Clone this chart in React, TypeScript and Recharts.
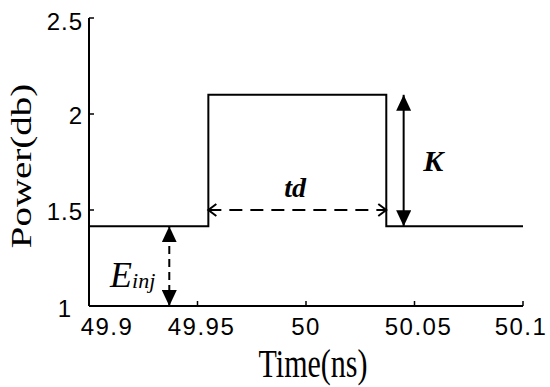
import React from "react";
import {
  LineChart,
  Line,
  XAxis,
  YAxis,
  ReferenceLine,
  ReferenceDot,
  Label,
} from "recharts";

// pulse trace
const stepTimes = [49.9, 49.955, 50.037, 50.1];
const stepPower = [1.415, 2.1, 1.415, 1.415];

// axes
const xTicks = [49.9, 49.95, 50, 50.05, 50.1];
const yTicks = [1, 1.5, 2, 2.5];

// annotations, in data units
const tdSpan = [49.955, 50.037];
const tdLevel = 1.5;
const kTime = 50.045;
const kSpan = [1.415, 2.1];
const eTime = 49.937;
const eSpan = [1, 1.415];
const tdTextAt = [49.995, 1.569];
const kTextAt = [50.0587, 1.703];
const eTextAt = [49.9097, 1.098];

const data = stepTimes.map((t, i) => ({ t, p: stepPower[i] }));

const sans = "'Liberation Sans', Arial, sans-serif";
const serif = "'Liberation Serif', 'Times New Roman', serif";

const xLabelShift = [18, 4, 0, 4, -2];

function BottomTick({ x, y, payload, index }: any) {
  return (
    <g>
      <line x1={x} y1={y} x2={x} y2={y - 5} stroke="#000" strokeWidth={1.5} />
      <text
        x={x + (xLabelShift[index] ?? 0)}
        y={y + 29}
        textAnchor="middle"
        fontFamily={sans}
        fontSize={24}
        letterSpacing={1.5}
        fill="#000"
      >
        {payload.value}
      </text>
    </g>
  );
}

function LeftTick({ x, y, payload, index }: any) {
  const first = index === 0;
  const last = index === yTicks.length - 1;
  return (
    <g>
      <line x1={x} y1={y} x2={x + 5} y2={y} stroke="#000" strokeWidth={1.5} />
      <text
        x={first ? x - 17 : x - 6}
        y={y + (first ? 11 : last ? 12 : 10)}
        textAnchor="end"
        fontFamily={sans}
        fontSize={24}
        letterSpacing={1}
        fill="#000"
      >
        {payload.value}
      </text>
    </g>
  );
}

function TopTick({ x, y }: any) {
  return <line x1={x} y1={y} x2={x} y2={y + 5} stroke="#000" strokeWidth={1.5} />;
}

function RightTick({ x, y }: any) {
  return <line x1={x} y1={y} x2={x - 5} y2={y} stroke="#000" strokeWidth={1.5} />;
}

function XTitle({ viewBox }: any) {
  const cx = viewBox.x + viewBox.width / 2 + 7;
  const by = viewBox.y + 71;
  return (
    <text
      transform={`translate(${cx},${by}) scale(1,1.3)`}
      textAnchor="middle"
      fontFamily={serif}
      fontSize={30}
      fill="#000"
    >
      Time(ns)
    </text>
  );
}

function YTitle({ viewBox }: any) {
  const cy = viewBox.y + viewBox.height / 2 + 4;
  return (
    <text
      transform={`translate(31,${cy}) scale(1,1.3) rotate(-90)`}
      textAnchor="middle"
      fontFamily={serif}
      fontSize={30}
      fill="#000"
    >
      Power(db)
    </text>
  );
}

const arrow = (marker: string, dash?: string) => (p: any) => (
  <line
    x1={p.x1}
    y1={p.y1}
    x2={p.x2}
    y2={p.y2}
    stroke="#000"
    strokeWidth={2}
    strokeDasharray={dash}
    markerStart={`url(#${marker})`}
    markerEnd={`url(#${marker})`}
  />
);

export default function App() {
  return (
    <div style={{ position: "absolute", left: 0, top: 0, width: 550, height: 387, background: "#fff" }}>
      <svg width={0} height={0} style={{ position: "absolute" }}>
        <defs>
          <marker
            id="tri"
            viewBox="0 0 16 15"
            refX={16}
            refY={7.5}
            markerWidth={16}
            markerHeight={15}
            markerUnits="userSpaceOnUse"
            orient="auto-start-reverse"
          >
            <path d="M0,0 L16,7.5 L0,15 z" fill="#000" />
          </marker>
          <marker
            id="chev"
            viewBox="0 0 10 14"
            refX={9}
            refY={7}
            markerWidth={10}
            markerHeight={14}
            markerUnits="userSpaceOnUse"
            orient="auto-start-reverse"
            overflow="visible"
          >
            <path d="M1,1 L9,7 L1,13" fill="none" stroke="#000" strokeWidth={2} />
          </marker>
        </defs>
      </svg>
      <LineChart
        width={550}
        height={387}
        data={data}
        margin={{ top: 18, right: 27, bottom: 0, left: 0 }}
      >
        <XAxis
          dataKey="t"
          type="number"
          domain={[49.9, 50.1]}
          ticks={xTicks}
          allowDataOverflow
          height={81}
          tickSize={0}
          tickMargin={0}
          tickLine={false}
          axisLine={{ stroke: "#000", strokeWidth: 2 }}
          tick={<BottomTick />}
          interval={0}
        >
          <Label content={<XTitle />} />
        </XAxis>
        <XAxis
          xAxisId="top"
          orientation="top"
          type="number"
          domain={[49.9, 50.1]}
          ticks={xTicks}
          allowDataOverflow
          height={0}
          tickSize={0}
          tickMargin={0}
          tickLine={false}
          axisLine={{ stroke: "#000", strokeWidth: 2 }}
          tick={<TopTick />}
          interval={0}
        />
        <YAxis
          type="number"
          domain={[1, 2.5]}
          ticks={yTicks}
          allowDataOverflow
          width={89}
          tickSize={0}
          tickMargin={0}
          tickLine={false}
          axisLine={{ stroke: "#000", strokeWidth: 2 }}
          tick={<LeftTick />}
          interval={0}
        >
          <Label content={<YTitle />} />
        </YAxis>
        <YAxis
          yAxisId="right"
          orientation="right"
          type="number"
          domain={[1, 2.5]}
          ticks={yTicks}
          allowDataOverflow
          width={0}
          tickSize={0}
          tickMargin={0}
          tickLine={false}
          axisLine={{ stroke: "#000", strokeWidth: 2 }}
          tick={<RightTick />}
          interval={0}
        />
        <Line
          dataKey="p"
          type="stepAfter"
          stroke="#000"
          strokeWidth={2}
          dot={false}
          activeDot={false}
          isAnimationActive={false}
        />
        <ReferenceLine
          segment={[
            { x: tdSpan[0], y: tdLevel },
            { x: tdSpan[1], y: tdLevel },
          ]}
          shape={arrow("chev", "13 8")}
        />
        <ReferenceLine
          segment={[
            { x: kTime, y: kSpan[0] },
            { x: kTime, y: kSpan[1] },
          ]}
          shape={arrow("tri")}
        />
        <ReferenceLine
          segment={[
            { x: eTime, y: eSpan[0] },
            { x: eTime, y: eSpan[1] },
          ]}
          shape={arrow("tri", "8 5")}
        />
        <ReferenceDot
          x={tdTextAt[0]}
          y={tdTextAt[1]}
          r={0}
          shape={(p: any) => (
            <text x={p.cx} y={p.cy} textAnchor="middle" fontFamily={serif} fontSize={28} fontWeight="bold" fontStyle="italic" fill="#000">
              td
            </text>
          )}
        />
        <ReferenceDot
          x={kTextAt[0]}
          y={kTextAt[1]}
          r={0}
          shape={(p: any) => (
            <text x={p.cx} y={p.cy} textAnchor="middle" fontFamily={serif} fontSize={30} fontWeight="bold" fontStyle="italic" fill="#000">
              K
            </text>
          )}
        />
        <ReferenceDot
          x={eTextAt[0]}
          y={eTextAt[1]}
          r={0}
          shape={(p: any) => (
            <text x={p.cx} y={p.cy} fontFamily={serif} fontStyle="italic" fill="#000">
              <tspan fontSize={36}>E</tspan>
              <tspan fontSize={22} dy={1}>inj</tspan>
            </text>
          )}
        />
      </LineChart>
    </div>
  );
}
